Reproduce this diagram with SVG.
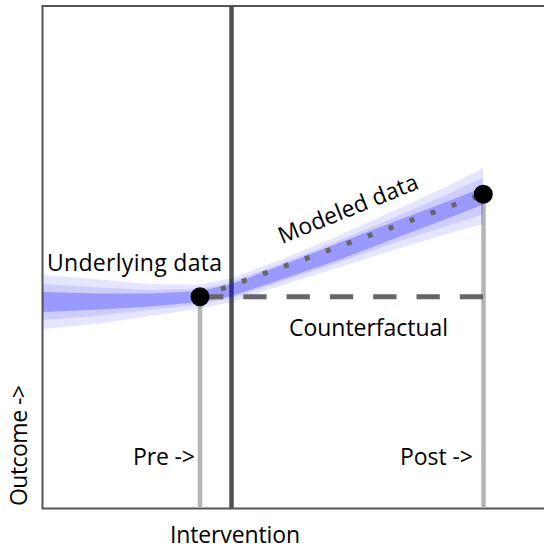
<svg xmlns="http://www.w3.org/2000/svg" width="544" height="550" viewBox="0 0 544 550">
<style>
.t{font-family:"Open Sans","Noto Sans","Liberation Sans",sans-serif;font-size:23px;fill:#000}
.band{fill:#0000ff;stroke:none}
</style>
<rect x="0" y="0" width="544" height="550" fill="#fff"/>
<g id="frame">
<path d="M552,6 H42.5 V508.5 H552" fill="none" stroke="#555" stroke-width="2"/>
</g>
<g id="connectors">
<line id="pre-line" x1="200" y1="297" x2="200" y2="508" stroke="#b5b5b5" stroke-width="4.5"/>
<line id="post-line" x1="483.5" y1="194" x2="483.5" y2="508" stroke="#b5b5b5" stroke-width="4.5"/>
<line id="intervention-line" x1="231.5" y1="6" x2="231.5" y2="508" stroke="#505050" stroke-width="4.5"/>
</g>
<g id="band">
<polygon class="band" fill-opacity="0.1" points="43,275 100,279.5 150,284 200,284.5 230,278.5 280,260 340,235 400,208 450,185 483,168 483,224 450,233 400,248 340,267 280,286 230,302.5 200,308.5 150,316 100,323.5 43,329"/>
<polygon class="band" fill-opacity="0.1" points="43,284 100,287.5 150,290 200,288.5 230,282.5 280,264 340,240 400,215 450,193 483,177.5 483,214.5 450,225 400,241 340,262 280,282 230,298.5 200,304.5 150,310 100,315.5 43,320"/>
<polygon class="band" fill-opacity="0.25" points="43,292 100,293.5 150,293.5 200,291 230,284.5 280,266 340,242.5 400,219.5 450,200.5 483,187.5 483,204.5 450,217.5 400,236.5 340,259.5 280,280 230,296.5 200,302 150,306.5 100,309.5 43,312"/>
</g>
<g id="lines">
<line id="counterfactual-line" x1="200" y1="296.7" x2="483.5" y2="296.7" stroke="#666" stroke-width="5" stroke-dasharray="23.3 20"/>
<line id="modeled-line" x1="200" y1="296.7" x2="483.3" y2="194.3" stroke="#666" stroke-width="5" stroke-dasharray="5 17.3"/>
</g>
<g id="pre-point"><circle cx="200" cy="296.7" r="9.5" fill="#000"/></g>
<g id="post-point"><circle cx="483.3" cy="194.3" r="9.5" fill="#000"/></g>
<g id="labels">
<text class="t" x="47" y="271" textLength="175">Underlying data</text>
<text class="t" x="0" y="0" transform="translate(282,244) rotate(-22)" textLength="149">Modeled data</text>
<text class="t" x="289" y="336" textLength="159">Counterfactual</text>
<text class="t" x="133" y="465" textLength="62">Pre -&gt;</text>
<text class="t" x="400" y="465" textLength="73">Post -&gt;</text>
<text class="t" x="170" y="543" textLength="130">Intervention</text>
<text class="t" x="0" y="0" transform="translate(27,506) rotate(-90)" textLength="121">Outcome -&gt;</text>
</g>
</svg>
